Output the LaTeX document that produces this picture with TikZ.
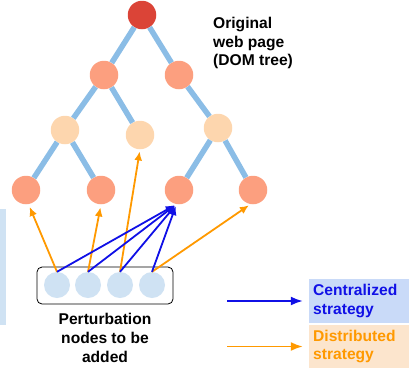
\documentclass[tikz,border=0pt]{standalone}
\usepackage{fontspec}
\setmainfont{Liberation Sans}
\usetikzlibrary{arrows.meta}
\definecolor{rootc}{HTML}{DB4437}
\definecolor{salmon}{HTML}{FC9F7F}
\definecolor{peach}{HTML}{FDD6AE}
\definecolor{edgec}{HTML}{8BBDE6}
\definecolor{pertc}{HTML}{CFE2F3}
\definecolor{bluec}{HTML}{1010E6}
\definecolor{orangec}{HTML}{FF9900}
\definecolor{cboxc}{HTML}{C9DAF8}
\definecolor{dboxc}{HTML}{FCE5CD}
\tikzset{
  dom/.style={circle,minimum size=28.5pt,inner sep=0pt,draw=none},
  pert/.style={circle,minimum size=26pt,inner sep=0pt,draw=none,fill=pertc},
  treeedge/.style={edgec,line width=5.5pt},
  cent/.style={bluec,line width=1.8pt,-{Latex[length=9pt,width=8pt]}},
  dist/.style={orangec,line width=1.8pt,-{Latex[length=9pt,width=8pt]}},
  bighead/.style={-{Latex[length=12pt,width=9pt]}},
  lbl/.style={font=\fontsize{15.6}{18.6}\selectfont\bfseries,inner sep=0pt},
}
\begin{document}
\begin{tikzpicture}[x=1pt,y=-1pt]
\useasboundingbox (0,0) rectangle (412,373);
% left strip
\fill[pertc] (0,209) rectangle (6,325);
% tree nodes
\node[dom,fill=rootc] (r) at (142,15) {};
\node[dom,fill=salmon] (a) at (104,75) {};
\node[dom,fill=salmon] (b) at (179,75) {};
\node[dom,fill=peach] (aa) at (65,130) {};
\node[dom,fill=peach] (ab) at (140,135) {};
\node[dom,fill=peach] (ba) at (218,128) {};
\node[dom,fill=salmon] (l1) at (26,190) {};
\node[dom,fill=salmon] (l2) at (101,190) {};
\node[dom,fill=salmon] (l3) at (179,190) {};
\node[dom,fill=salmon] (l4) at (253,190) {};
% tree edges
\begin{scope}[treeedge]
\draw (r) -- (a); \draw (r) -- (b);
\draw (a) -- (aa); \draw (a) -- (ab);
\draw (b) -- (ba);
\draw (aa) -- (l1); \draw (aa) -- (l2);
\draw (ba) -- (l3); \draw (ba) -- (l4);
\end{scope}
\node[lbl,anchor=west,align=left] (orig) at (213,43) {Original\\web page\\(DOM tree)};
% perturbation box
\node[draw=black,line width=0.8pt,rounded corners=5pt,fill=white,minimum width=136pt,minimum height=37pt,inner sep=0pt] (pbox) at (105,285.5) {};
\node[pert] (p1) at (57,285) {};
\node[pert] (p2) at (88,285) {};
\node[pert] (p3) at (120,285) {};
\node[pert] (p4) at (152,285) {};
\node[lbl,align=center] (plab) at (105,338) {Perturbation\\nodes to be\\added};
% arrows
\draw[dist,shorten >=3pt] (p1.north) -- (l1.-80);
\draw[dist,shorten >=3pt] (p2.north) -- (l2.south);
\draw[dist,shorten >=2pt] (p3.north) -- (ab.south);
\draw[dist,shorten >=2pt] (p4.north) -- (l4.-100);
\draw[cent,shorten >=2pt] (p1.north) -- (l3.-100);
\draw[cent,shorten >=2pt] (p2.north) -- (l3.-100);
\draw[cent,shorten >=2pt] (p3.north) -- (l3.-100);
\draw[cent,shorten >=2pt] (p4.north) -- (l3.-100);
% legend
\node[fill=cboxc,minimum width=100pt,minimum height=44pt,inner sep=0pt] (cbox) at (359,301) {};
\node[fill=dboxc,minimum width=100pt,minimum height=43pt,inner sep=0pt] (dbox) at (359,346.5) {};
\node[lbl,text=bluec,anchor=west,align=left] (ctext) at (313,301) {Centralized\\strategy};
\node[lbl,text=orangec,anchor=west,align=left] (dtext) at (313,346.5) {Distributed\\strategy};
\coordinate (cs) at (227,301);
\coordinate (ds) at (227,346.5);
\draw[cent,bighead,shorten >=6pt] (cs) -- (cbox.west);
\draw[dist,bighead,shorten >=6pt] (ds) -- (dbox.west);
\end{tikzpicture}
\end{document}
